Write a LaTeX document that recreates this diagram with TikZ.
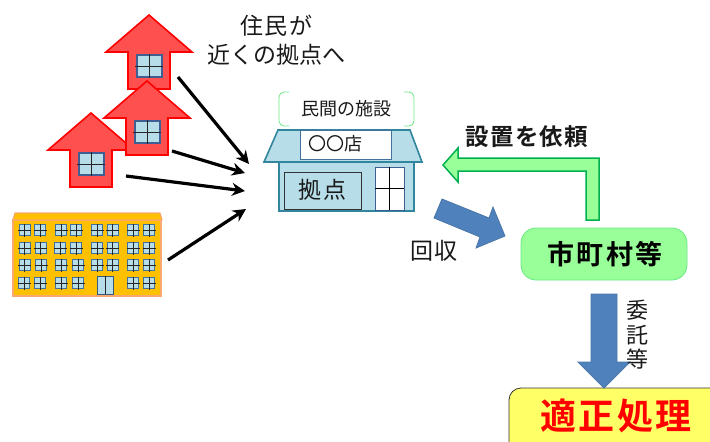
\documentclass[tikz,border=0pt]{standalone}
\usepackage{fontspec}
\setmainfont{Noto Sans CJK JP}[BoldFont={Noto Sans CJK JP Bold}]
\usetikzlibrary{arrows.meta}
\definecolor{hfill}{HTML}{FF5050}
\definecolor{hline}{HTML}{FF0000}
\definecolor{winfill}{HTML}{B7DDE8}
\definecolor{winline}{HTML}{41719C}
\definecolor{winblue}{HTML}{3F5F92}
\definecolor{shopline}{HTML}{31859C}
\definecolor{gfill}{HTML}{99FF99}
\definecolor{gline}{HTML}{00B050}
\definecolor{blfill}{HTML}{4F81BD}
\definecolor{blline}{HTML}{4A76A8}
\definecolor{orfill}{HTML}{FFC000}
\definecolor{orline}{HTML}{F9A870}
\definecolor{yfill}{HTML}{FFFF66}
\newcommand{\tracked}[1]{\addfontfeature{LetterSpace=#1}}
\tikzset{
  houseshape/.style={fill=hfill,draw=hline,line width=1.6pt,line join=miter},
  bigwin/.style={fill=winfill,draw=winblue,line width=1.6pt},
  smallwin/.style={fill=winfill,draw=winline,line width=0.7pt},
  pane/.style={draw=black!85,line width=0.6pt},
  flow/.style={draw=black,line width=3.2pt,-{Stealth[length=13pt,width=13pt]}},
  blockblue/.style={fill=blfill,draw=blline,line width=0.8pt,line join=miter},
  label/.style={inner sep=0pt,text=black!90},
  pics/dwelling/.style={code={
    \draw[houseshape] (0,0) -- (43,37) -- (21,37) -- (21,74) -- (-21,74) -- (-21,37) -- (-43,37) -- cycle;
    \draw[bigwin] (-12,40) rectangle (13,62);
    \draw[pane] (-14,51) -- (14,51) (0.5,39) -- (0.5,63);
  }},
  pics/pane/.style={code={
    \draw[smallwin] (-5.5,-5.5) rectangle (5.5,5.5);
    \draw[pane] (-6.5,0) -- (6.5,0) (0,-6.5) -- (0,6.5);
  }}
}
\begin{document}
\begin{tikzpicture}[x=1pt,y=-1pt]
\useasboundingbox (0,0) rectangle (710,442);
\clip (0,0) rectangle (710,442);

% houses
\pic at (149,15) {dwelling};
\pic at (91,113) {dwelling};
\pic at (147,81) {dwelling};

% apartment block
\fill[orfill,draw=orline,line width=1.5pt] (13,220) rectangle (161,296);
\fill[orfill,draw=orline,line width=1.2pt,line join=round] (15,213) -- (160,213) -- (162,220) -- (13,220) -- cycle;
\foreach \yy/\cols in {230/{24.5,40,61,76,97,112.5,133,149},
                       248/{24.5,40.5,60,76,97,112.5,133,149},
                       265/{24.5,41,61,78,97,112.5,133,149},
                       283/{24,40,61,78,133,149}}{
  \foreach \xx in \cols { \pic at (\xx,\yy) {pane}; }
}
\draw[fill=winfill,draw=winline!80!black,line width=0.8pt] (97.5,276) rectangle (113.5,294);
\draw[pane] (105.5,276) -- (105.5,294);

% shop
\draw[fill=winfill,draw=shopline,line width=1.6pt] (279,162) rectangle (414,211);
\draw[fill=winfill,draw=shopline,line width=1.6pt,line join=miter] (278,130) -- (410,130) -- (422,162) -- (264,162) -- cycle;
\node[draw=winline,fill=white,line width=0.8pt,minimum width=91pt,minimum height=29pt,inner sep=0pt] (sign) at (345.5,144.5) {};
\node[label,anchor=center,font=\fontsize{18}{20}\selectfont] (signtext) at (335,144) {〇〇店};
\node[draw=black!80,fill=winfill,line width=0.8pt,minimum width=77pt,minimum height=37pt,inner sep=0pt] (base) at (322.5,190.5) {};
\node[label,font=\fontsize{23}{26}\selectfont\tracked{12}] (basetext) at (322.5,190) {拠点};
\draw[fill=white,draw=winblue,line width=0.8pt] (375,167) rectangle (404,210);
\draw[draw=black,line width=0.9pt] (375,188) -- (404,188) (389.5,167) -- (389.5,210);

% bracket
\draw[draw=gfill!70!gline,line width=0.8pt,rounded corners=5pt] (289,92) -- (279,92) -- (279,126) -- (289,126);
\draw[draw=gfill!70!gline,line width=0.8pt,rounded corners=5pt] (404,92) -- (414,92) -- (414,126) -- (404,126);
\node[label,font=\fontsize{18}{20}\selectfont] (facility) at (346,109) {民間の施設};

% top label
\node[label,font=\fontsize{23}{26}\selectfont\tracked{6}] (resident1) at (276.5,26) {住民が};
\node[label,font=\fontsize{23}{26}\selectfont] (resident2) at (276,55) {近くの拠点へ};

% flows to the shop
\coordinate (f1) at (178,77);   \coordinate (t1) at (249,164);
\coordinate (f2) at (172,151);  \coordinate (t2) at (245,173);
\coordinate (f3) at (126,176);  \coordinate (t3) at (245,191);
\coordinate (f4) at (168,260);  \coordinate (t4) at (246,209);
\draw[flow] (f1) -- (t1);
\draw[flow] (f2) -- (t2);
\draw[flow] (f3) -- (t3);
\draw[flow] (f4) -- (t4);

% green request arrow
\draw[fill=gfill,draw=gline,line width=1.5pt,line join=miter]
  (443,165) -- (458,148) -- (458,158) -- (599,158) -- (599,220) -- (586,220) -- (586,171) -- (458,171) -- (458,182) -- cycle;
\node[label,font=\bfseries\fontsize{23.5}{26}\selectfont\tracked{5}] (request) at (527,137) {設置を依頼};

% blue recovery arrow
\draw[blockblue] (442,199) -- (489,218) -- (493,207) -- (505,236) -- (476,248) -- (480,237) -- (434,218) -- cycle;
\node[label,font=\fontsize{23}{26}\selectfont\tracked{6}] (recover) at (434,251) {回収};

% municipality
\node[fill=gfill,draw=gfill!70!gline,line width=0.8pt,rounded corners=15pt,minimum width=166pt,minimum height=52pt,inner sep=0pt] (city) at (604,254) {};
\node[text=black,inner sep=0pt,font=\bfseries\fontsize{27}{30}\selectfont\tracked{9}] (citytext) at (605,254) {市町村等};

% yellow box (runs off the page)
\node[fill=yfill,draw=black!80,line width=0.8pt,rounded corners=12pt,minimum width=230pt,minimum height=90pt,inner sep=0pt] (proper) at (624,433) {};
\node[text=red,inner sep=0pt,font=\bfseries\fontsize{36}{40}\selectfont\tracked{6}] (propertext) at (616,416) {適正処理};

% blue down arrow
\draw[blockblue] (591,294) -- (617,294) -- (617,362) -- (630,362) -- (604,388) -- (578,362) -- (591,362) -- cycle;
\node[label,align=center,font=\fontsize{22}{24.5}\selectfont] (entrust) at (637,335) {委\\託\\等};
\end{tikzpicture}
\end{document}
